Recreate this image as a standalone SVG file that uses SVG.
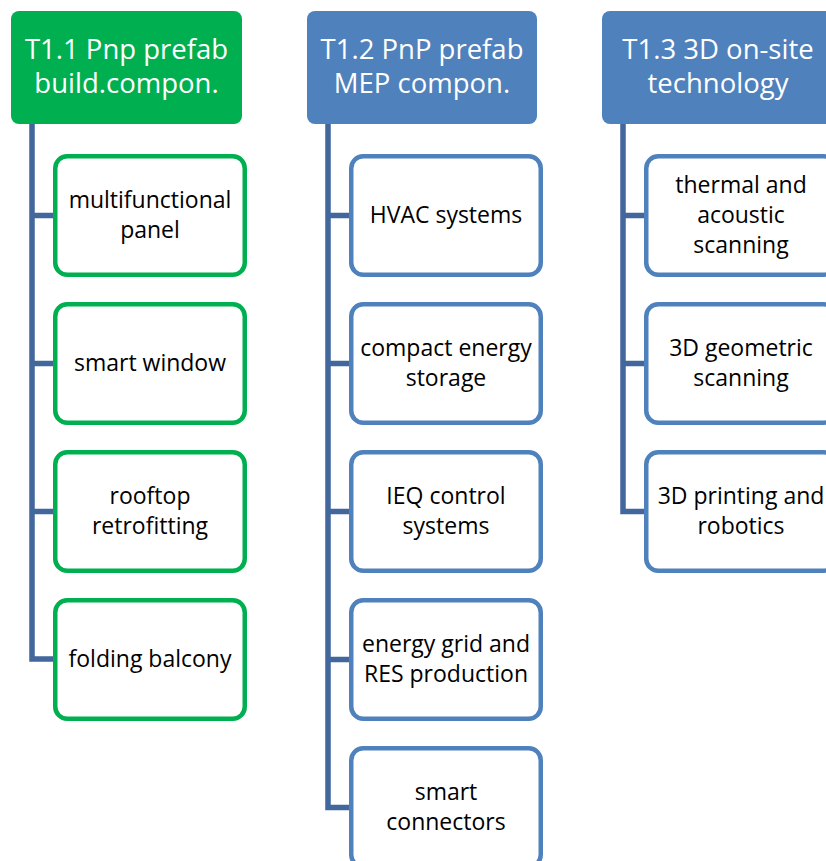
<svg xmlns="http://www.w3.org/2000/svg" width="826" height="861" viewBox="0 0 826 861">
<style>
.hdrG{fill:#00B050;}
.hdrB{fill:#4F81BD;}
.boxG{fill:#FFFFFF;stroke:#00B050;stroke-width:4.5;}
.boxB{fill:#FFFFFF;stroke:#4F81BD;stroke-width:4.5;}
.ht{font-family:"Open Sans","Noto Sans",sans-serif;font-size:27.5px;fill:#FFFFFF;text-anchor:middle;}
.ct{font-family:"Open Sans","Noto Sans",sans-serif;font-size:23px;fill:#000000;text-anchor:middle;}
.conn{fill:none;stroke:#41679C;stroke-width:5.5;stroke-linejoin:miter;}
</style>
<rect width="826" height="861" fill="#FFFFFF"/>
<g id="connectors">
<path class="conn" d="M32,124 V659 H56 M32,215.5 H56 M32,363.5 H56 M32,511.5 H56"/>
<path class="conn" d="M328,124 V807.5 H352 M328,215.5 H352 M328,363.5 H352 M328,511.5 H352 M328,659.5 H352"/>
<path class="conn" d="M623,124 V511.5 H647 M623,215.5 H647 M623,363.5 H647"/>
</g>
<g id="t11">
<rect class="hdrG" x="11" y="11" width="231" height="113" rx="8"/>
<text class="ht" x="126.5" y="59">T1.1 Pnp prefab</text>
<text class="ht" x="126.5" y="93">build.compon.</text>
</g>
<g id="multifunctional-panel">
<rect class="boxG" x="55.25" y="156.25" width="189.5" height="118.5" rx="12"/>
<text class="ct" x="150" y="207.5">multifunctional</text>
<text class="ct" x="150" y="237.5">panel</text>
</g>
<g id="smart-window">
<rect class="boxG" x="55.25" y="304.25" width="189.5" height="118.5" rx="12"/>
<text class="ct" x="150" y="370.5">smart window</text>
</g>
<g id="rooftop-retrofitting">
<rect class="boxG" x="55.25" y="452.25" width="189.5" height="118.5" rx="12"/>
<text class="ct" x="150" y="503.5">rooftop</text>
<text class="ct" x="150" y="533.5">retrofitting</text>
</g>
<g id="folding-balcony">
<rect class="boxG" x="55.25" y="600.25" width="189.5" height="118.5" rx="12"/>
<text class="ct" x="150" y="666.5">folding balcony</text>
</g>
<g id="t12">
<rect class="hdrB" x="307" y="11" width="230" height="113" rx="8"/>
<text class="ht" x="422" y="59">T1.2 PnP prefab</text>
<text class="ht" x="422" y="93">MEP compon.</text>
</g>
<g id="hvac-systems">
<rect class="boxB" x="351.25" y="156.25" width="189.5" height="118.5" rx="12"/>
<text class="ct" x="446" y="222.5">HVAC systems</text>
</g>
<g id="compact-energy-storage">
<rect class="boxB" x="351.25" y="304.25" width="189.5" height="118.5" rx="12"/>
<text class="ct" x="446" y="355.5">compact energy</text>
<text class="ct" x="446" y="385.5">storage</text>
</g>
<g id="ieq-control-systems">
<rect class="boxB" x="351.25" y="452.25" width="189.5" height="118.5" rx="12"/>
<text class="ct" x="446" y="503.5">IEQ control</text>
<text class="ct" x="446" y="533.5">systems</text>
</g>
<g id="energy-grid-res">
<rect class="boxB" x="351.25" y="600.25" width="189.5" height="118.5" rx="12"/>
<text class="ct" x="446" y="651.5">energy grid and</text>
<text class="ct" x="446" y="681.5">RES production</text>
</g>
<g id="smart-connectors">
<rect class="boxB" x="351.25" y="748.25" width="189.5" height="118.5" rx="12"/>
<text class="ct" x="446" y="799.5">smart</text>
<text class="ct" x="446" y="829.5">connectors</text>
</g>
<g id="t13">
<rect class="hdrB" x="602" y="11" width="231" height="113" rx="8"/>
<text class="ht" x="718" y="59">T1.3 3D on-site</text>
<text class="ht" x="718" y="93">technology</text>
</g>
<g id="thermal-acoustic-scanning">
<rect class="boxB" x="646.25" y="156.25" width="189.5" height="118.5" rx="12"/>
<text class="ct" x="741" y="192.5">thermal and</text>
<text class="ct" x="741" y="222.5">acoustic</text>
<text class="ct" x="741" y="252.5">scanning</text>
</g>
<g id="geometric-scanning">
<rect class="boxB" x="646.25" y="304.25" width="189.5" height="118.5" rx="12"/>
<text class="ct" x="741" y="355.5">3D geometric</text>
<text class="ct" x="741" y="385.5">scanning</text>
</g>
<g id="printing-robotics">
<rect class="boxB" x="646.25" y="452.25" width="189.5" height="118.5" rx="12"/>
<text class="ct" x="741" y="503.5">3D printing and</text>
<text class="ct" x="741" y="533.5">robotics</text>
</g>
</svg>
